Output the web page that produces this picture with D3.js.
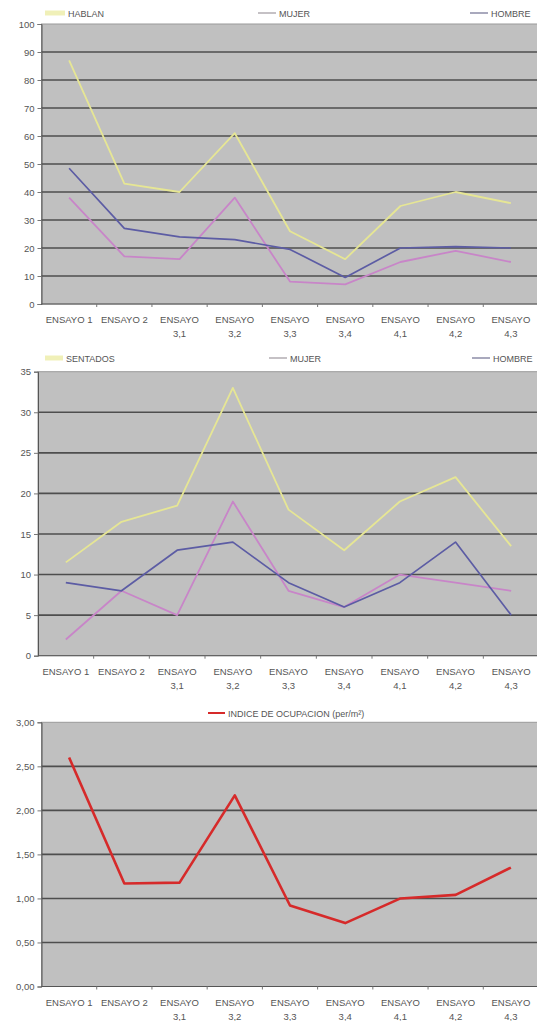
<!DOCTYPE html>
<html>
<head>
<meta charset="utf-8">
<script src="https://cdn.jsdelivr.net/npm/d3@7"></script>
<style>
  html, body { margin: 0; padding: 0; background: #fff; }
  svg { display: block; font-family: "Liberation Sans", Arial, sans-serif; }
</style>
</head>
<body>
<svg id="chart" width="537" height="1021"></svg>
<script>
// Trial categories shared by the three panels
const categories = ["ENSAYO 1", "ENSAYO 2", "ENSAYO 3,1", "ENSAYO 3,2", "ENSAYO 3,3",
                    "ENSAYO 3,4", "ENSAYO 4,1", "ENSAYO 4,2", "ENSAYO 4,3"];

// Panel 1: people talking
const hablan  = [87, 43, 40, 61, 26, 16, 35, 40, 36];
const mujerHablan  = [38, 17, 16, 38, 8, 7, 15, 19, 15];
const hombreHablan = [48.5, 27, 24, 23, 19.5, 9.5, 20, 20.5, 20];
const ticks1 = [0, 10, 20, 30, 40, 50, 60, 70, 80, 90, 100];

// Panel 2: people seated
const sentados = [11.5, 16.5, 18.5, 33, 18, 13, 19, 22, 13.5];
const mujerSentados  = [2, 8, 5, 19, 8, 6, 10, 9, 8];
const hombreSentados = [9, 8, 13, 14, 9, 6, 9, 14, 5];
const ticks2 = [0, 5, 10, 15, 20, 25, 30, 35];

// Panel 3: occupancy index (persons per m²)
const indice = [2.6, 1.17, 1.18, 2.17, 0.92, 0.72, 1.0, 1.04, 1.35];
const ticks3 = [0, 0.5, 1, 1.5, 2, 2.5, 3];

const colors = { hablan: "#e6e694", mujer: "#c885c8", hombre: "#5c5ca4", indice: "#d62a2a" };

const esLocale = d3.formatLocale({ decimal: ",", thousands: ".", grouping: [3], currency: ["", " €"] });
const svg = d3.select("#chart");

function drawPanel(opt) {
  const g = svg.append("g");
  const x = d3.scaleBand().domain(categories).range([opt.left, opt.right]);
  const y = d3.scaleLinear().domain([0, opt.ticks[opt.ticks.length - 1]]).range([opt.bottom, opt.top]);

  // plot area
  g.append("rect")
    .attr("x", opt.left).attr("y", opt.top)
    .attr("width", opt.right - opt.left).attr("height", opt.bottom - opt.top)
    .attr("fill", "#c0c0c0").attr("stroke", "#9a9a9a").attr("stroke-width", 1);

  // horizontal gridlines
  g.selectAll("line.grid").data(opt.ticks.filter(t => t > 0 && t < opt.ticks[opt.ticks.length - 1]))
    .join("line").attr("class", "grid")
    .attr("x1", opt.left).attr("x2", opt.right)
    .attr("y1", d => y(d)).attr("y2", d => y(d))
    .attr("stroke", "#4e4e4e").attr("stroke-width", 1.6);

  // y axis
  const yAxis = d3.axisLeft(y).tickValues(opt.ticks).tickSize(4).tickPadding(3)
    .tickFormat(opt.format);
  const ya = g.append("g").attr("transform", `translate(${opt.left},0)`).call(yAxis);
  ya.select(".domain").attr("stroke", "#555");
  ya.selectAll(".tick line").attr("stroke", "#777");
  ya.selectAll(".tick text").attr("fill", "#555").attr("font-size", 9.5);

  // x axis with ticks at category boundaries
  const xa = g.append("g");
  xa.append("line").attr("x1", opt.left).attr("x2", opt.right)
    .attr("y1", opt.bottom).attr("y2", opt.bottom).attr("stroke", "#555").attr("stroke-width", 1);
  xa.selectAll("line.xt").data(categories.slice(1))
    .join("line").attr("class", "xt")
    .attr("x1", d => x(d)).attr("x2", d => x(d))
    .attr("y1", opt.bottom).attr("y2", opt.bottom + 3)
    .attr("stroke", "#777");
  const labels = xa.selectAll("text.xl").data(categories).join("text").attr("class", "xl")
    .attr("x", d => x(d) + x.bandwidth() / 2)
    .attr("y", opt.bottom + 19)
    .attr("text-anchor", "middle").attr("font-size", 9.5).attr("fill", "#555");
  labels.each(function (d) {
    const t = d3.select(this);
    const parts = d.includes(",") ? [d.slice(0, d.lastIndexOf(" ")), d.slice(d.lastIndexOf(" ") + 1)] : [d];
    parts.forEach((p, i) => t.append("tspan").attr("x", x(d) + x.bandwidth() / 2)
      .attr("dy", i === 0 ? 0 : 14).text(p));
  });

  // series lines
  const line = d3.line().x((d, i) => x(categories[i]) + x.bandwidth() / 2).y(d => y(d));
  opt.series.forEach(s => {
    g.append("path").datum(s.values)
      .attr("d", line).attr("fill", "none")
      .attr("stroke", s.color).attr("stroke-width", s.width)
      .attr("stroke-linejoin", "round");
  });

  // legend
  opt.legend.forEach(l => {
    g.append("line").attr("x1", l.x).attr("x2", l.x + l.len)
      .attr("y1", opt.legendY).attr("y2", opt.legendY)
      .attr("stroke", l.color).attr("stroke-width", l.sw);
    g.append("text").attr("x", l.x + l.len + 3).attr("y", opt.legendY + 3.5)
      .attr("font-size", 9).attr("fill", "#555").text(l.label);
  });
}

drawPanel({
  left: 41.5, right: 538.5, top: 24, bottom: 304, ticks: ticks1,
  format: d3.format("d"), legendY: 13,
  series: [
    { values: hablan, color: colors.hablan, width: 1.8 },
    { values: mujerHablan, color: colors.mujer, width: 1.8 },
    { values: hombreHablan, color: colors.hombre, width: 1.7 }
  ],
  legend: [
    { x: 45, len: 20, color: "#f0f0b8", sw: 5, label: "HABLAN" },
    { x: 258, len: 18, color: "#a6a0a6", sw: 1.3, label: "MUJER" },
    { x: 470, len: 18, color: "#7a7a9a", sw: 1.3, label: "HOMBRE" }
  ]
});

drawPanel({
  left: 38, right: 539, top: 371.7, bottom: 655.7, ticks: ticks2,
  format: d3.format("d"), legendY: 358,
  series: [
    { values: sentados, color: colors.hablan, width: 1.8 },
    { values: mujerSentados, color: colors.mujer, width: 1.8 },
    { values: hombreSentados, color: colors.hombre, width: 1.7 }
  ],
  legend: [
    { x: 45, len: 18, color: "#f0f0b8", sw: 5, label: "SENTADOS" },
    { x: 269, len: 18, color: "#a6a0a6", sw: 1.3, label: "MUJER" },
    { x: 472, len: 18, color: "#7a7a9a", sw: 1.3, label: "HOMBRE" }
  ]
});

drawPanel({
  left: 41.5, right: 538.5, top: 722.3, bottom: 986.5, ticks: ticks3,
  format: esLocale.format(".2f"), legendY: 713,
  series: [
    { values: indice, color: colors.indice, width: 2.6 }
  ],
  legend: [
    { x: 208, len: 17, color: colors.indice, sw: 2, label: "INDICE DE OCUPACION (per/m²)" }
  ]
});
</script>
</body>
</html>
